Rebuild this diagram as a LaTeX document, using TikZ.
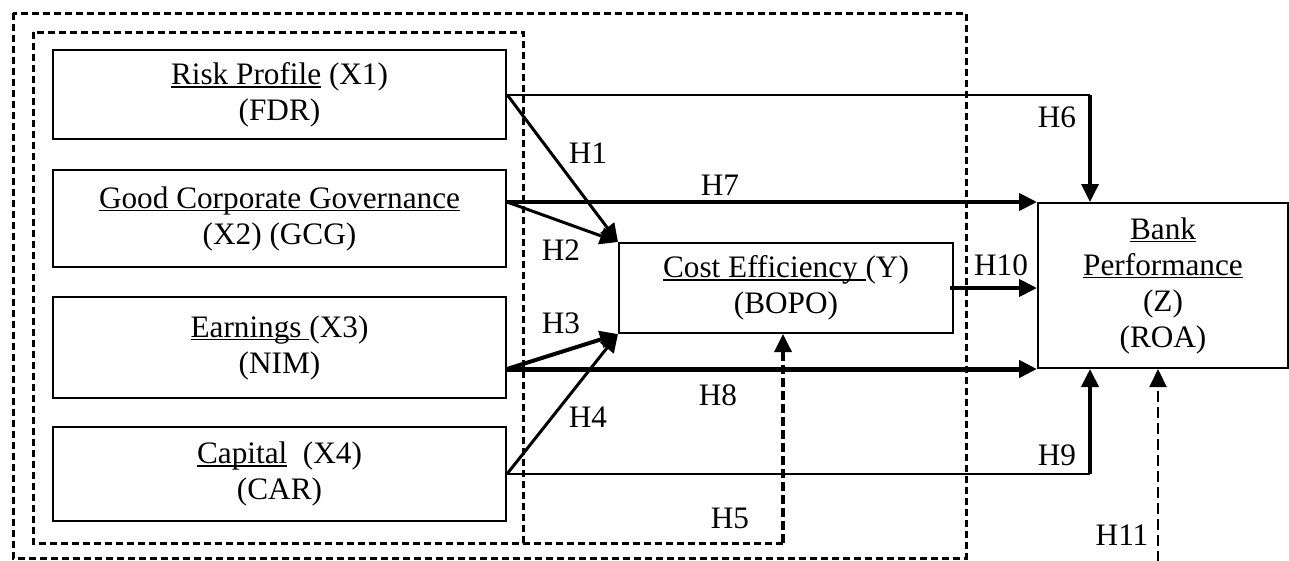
\documentclass[tikz,border=0pt]{standalone}
\usepackage{fontspec}
\setmainfont{Liberation Serif}
\usetikzlibrary{arrows.meta}
\newcommand{\ulin}[1]{\setbox0=\hbox{#1}\rlap{\rule[-0.11em]{\wd0}{0.055em}}\box0\relax}
\begin{document}
\begin{tikzpicture}[x=1pt,y=-1pt,
  every node/.style={font=\fontsize{31.25}{36}\selectfont},
  varbox/.style={draw, line width=2pt, inner sep=0pt, align=center},
  hlab/.style={inner sep=0pt},
  tipped/.style={-{Triangle[length=18pt,width=17pt]}},
  conn/.style={line width=2pt},
  arr/.style={tipped, line width=3pt},
  arrthick/.style={tipped, line width=4pt},
  groupbox/.style={line width=3pt, dash pattern=on 7pt off 4pt},
  dasharr/.style={tipped, line width=3.5pt, dash pattern=on 9pt off 4pt},
  thindasharr/.style={tipped, line width=2pt, dash pattern=on 11pt off 5pt}
]
\fill[white] (0,0) rectangle (1289,560);
\useasboundingbox (0,0) rectangle (1289,560);

% group boxes
\draw[groupbox] (13,13) rectangle (966,558);
\draw[groupbox] (33,32) rectangle (523,543);
\coordinate (h5) at (783,543);
\draw[groupbox] (523,543) -- (h5);

% variable boxes
\node[varbox, minimum width=453pt, minimum height=89pt] (X1) at (279.5,94.5) {\ulin{Risk Profile} (X1)\\(FDR)};
\node[varbox, minimum width=453pt, minimum height=97pt] (X2) at (279.5,218.5) {\ulin{Good Corporate Governance}\\(X2) (GCG)};
\node[varbox, minimum width=453pt, minimum height=101pt] (X3) at (279.5,347.5) {\ulin{Earnings\ }(X3)\\(NIM)};
\node[varbox, minimum width=453pt, minimum height=94pt] (X4) at (279.5,474) {\ulin{Capital}\ \ (X4)\\(CAR)};
\node[varbox, minimum width=334pt, minimum height=90pt] (CE) at (786,288) {\ulin{Cost Efficiency\ }(Y)\\(BOPO)};
\node[varbox, minimum width=250pt, minimum height=165pt] (BP) at (1163,285.5) {\ulin{Bank}\\\ulin{Performance}\\(Z)\\(ROA)};

% helper coordinates
\coordinate (h6) at (1090,94.5);
\coordinate (h9) at (1090,474);
\coordinate (h11) at (1158,562);
\coordinate (x2o) at (X2.east |- BP.north west);
\coordinate (x3o) at (X3.east |- BP.south west);

% H1 and H6
\draw[arr] (X1.east) -- (CE.north west);
\draw[conn] (X1.east) -- (h6);
\draw[arr, line width=3.5pt] (h6) -- (h6 |- BP.north);
% H2 and H7
\draw[arr] (x2o) -- (CE.north west);
\draw[arrthick] (x2o) -- (BP.north west);
% H3 and H8
\draw[arrthick] (x3o) -- (CE.south west);
\draw[arrthick, line width=5pt] (x3o) -- (BP.south west);
% H4 and H9
\draw[arr] (X4.east) -- (CE.south west);
\draw[conn] (X4.east) -- (h9);
\draw[arrthick] (h9) -- (h9 |- BP.south);
% H10
\draw[arrthick] ([xshift=-4pt]CE.east) -- (CE.east -| BP.west);
% H5
\draw[dasharr] (h5) -- (h5 |- CE.south);
% H11
\draw[thindasharr] (h11) -- (h11 |- BP.south);

% labels
\node[hlab] (l1) at (588,153) {H1};
\node[hlab] (l2) at (561,250) {H2};
\node[hlab] (l3) at (561,323) {H3};
\node[hlab] (l4) at (588,417) {H4};
\node[hlab] (l5) at (730,518) {H5};
\node[hlab] (l6) at (1057,117) {H6};
\node[hlab] (l7) at (720,185) {H7};
\node[hlab] (l8) at (718,395) {H8};
\node[hlab] (l9) at (1057,455) {H9};
\node[hlab] (l10) at (1001,265) {H10};
\node[hlab] (l11) at (1122,535) {H11};
\end{tikzpicture}
\end{document}
